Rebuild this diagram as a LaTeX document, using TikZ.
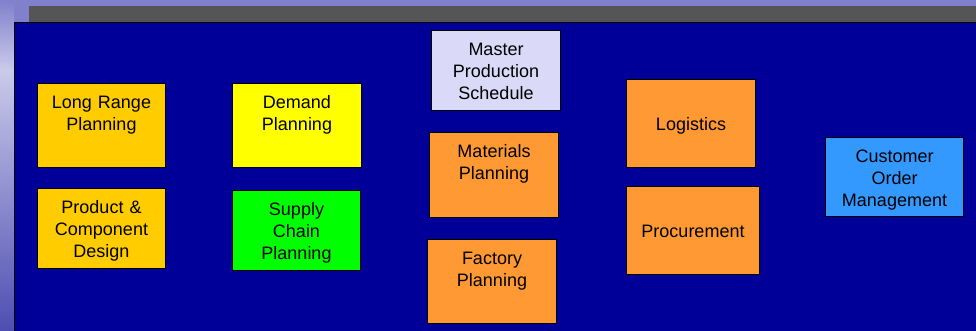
\documentclass[tikz,border=0pt]{standalone}
\usepackage{fontspec}
\setmainfont{Liberation Sans}
\usepackage{tikz}
\usetikzlibrary{positioning}

\definecolor{slidetop}{RGB}{128,128,204}
\definecolor{slidelight}{RGB}{202,202,234}
\definecolor{slidelow}{RGB}{78,78,178}
\definecolor{stripgray}{RGB}{85,85,85}
\definecolor{panelnavy}{RGB}{0,0,153}
\definecolor{gold}{RGB}{255,204,0}
\definecolor{lemon}{RGB}{255,255,0}
\definecolor{lime}{RGB}{0,255,0}
\definecolor{lilac}{RGB}{218,218,248}
\definecolor{tangerine}{RGB}{255,153,51}
\definecolor{sky}{RGB}{51,153,255}

\tikzset{
	block/.style={draw=black, line width=1pt, inner sep=0pt, anchor=north west,
		align=center, font=\fontsize{18}{21.8}\selectfont, text height=25pt},
	single/.style={text height=51pt}
}

\begin{document}
\begin{tikzpicture}[x=1pt, y=-1pt]
	\useasboundingbox (0,0) rectangle (976,330);
	% Slide background:
	\fill[slidetop] (0,0) rectangle (976,330);
	\shade[top color=slidetop, bottom color=slidelight] (0,0) rectangle (14,70);
	\shade[top color=slidelight, bottom color=slidelow] (0,70) rectangle (14,330);
	\fill[stripgray] (29,6) rectangle (976,22);
	\draw[fill=panelnavy, line width=1pt] (14,22) rectangle (978,332);
	% Planning blocks:
	\node[block, text width=128pt, text depth=59pt, fill=gold] (lrp) at (37,83) {Long Range\\Planning};
	\node[block, text width=128pt, text depth=55pt, fill=gold] (pcd) at (37,188) {Product \&\\Component\\Design};
	\node[block, text width=129pt, text depth=59pt, fill=lemon] (dem) at (232,83) {Demand\\Planning};
	\node[block, text width=128pt, text depth=55pt, fill=lime] (scp) at (232,190) {Supply\\Chain\\Planning};
	\node[block, text width=129pt, text depth=55pt, fill=lilac] (mps) at (431,30) {Master\\Production\\Schedule};
	\node[block, text width=129pt, text depth=60pt, fill=tangerine] (mat) at (429,132) {Materials\\Planning};
	\node[block, text width=129pt, text depth=59pt, fill=tangerine] (fac) at (427,239) {Factory\\Planning};
	\node[block, single, text width=129pt, text depth=37pt, fill=tangerine] (log) at (626,79) {Logistics};
	\node[block, single, text width=133pt, text depth=37pt, fill=tangerine] (pro) at (626,186) {Procurement};
	\node[block, text width=138pt, text depth=54pt, fill=sky] (com) at (825,137) {Customer\\Order\\Management};
\end{tikzpicture}
\end{document}
